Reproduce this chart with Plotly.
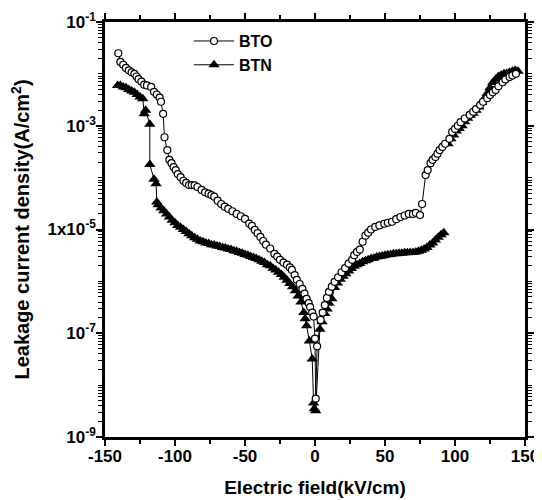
import plotly.graph_objects as go

# ---- data ----
bto_x = [-140.5, -139, -137, -135, -133, -131, -129, -127.5, -126, -124, -122, -120, -117, -115, -113,
         -111, -110, -108.5, -107.5, -105.5, -104, -102.5, -101, -99.5, -98, -96, -94, -92, -90, -88,
         -86, -84, -81, -78.5, -76, -74, -72, -69.5, -67, -64.5, -62, -59, -56, -53, -50, -47, -45,
         -43, -41, -39, -37, -35, -32, -29, -27, -25, -22.5, -20, -18, -16.5, -14.5, -13, -11, -9,
         -7.5, -6, -4.5, -3.5, -2, -1, 0, 0.5, 1.5, 4, 5.5, 7, 8.5, 10, 12, 14, 16.5, 19, 21.5, 24,
         26.5, 28, 30, 32, 34, 36, 38, 40, 43, 46, 49.5, 52, 55, 58, 61, 64, 67, 70, 72, 75, 76.5,
         79, 80.5, 82.5, 84, 86, 87.5, 89, 91, 93, 96, 98, 100, 102, 104, 107, 110.5, 113, 115, 118,
         120, 123, 125, 127, 129, 131, 134, 136, 139, 141, 143.5]
bto_y = [2.5e-2, 1.7e-2, 1.5e-2, 1.3e-2, 1.17e-2, 1.07e-2, 1.0e-2, 8.9e-3, 7.9e-3, 7.1e-3, 6.2e-3,
         6.0e-3, 5.6e-3, 4.5e-3, 4.0e-3, 3.5e-3, 2.9e-3, 1.7e-3, 6.0e-4, 3.4e-4, 2.2e-4, 1.9e-4,
         1.6e-4, 1.4e-4, 1.17e-4, 1.02e-4, 8.7e-5, 7.9e-5, 7.2e-5, 7.2e-5, 7.1e-5, 6.6e-5, 5.8e-5,
         5.2e-5, 4.9e-5, 4.6e-5, 4.3e-5, 3.6e-5, 3.1e-5, 2.75e-5, 2.5e-5, 2.25e-5, 2.0e-5, 1.8e-5,
         1.6e-5, 1.3e-5, 1.17e-5, 9.8e-6, 8.5e-6, 7.2e-6, 6.0e-6, 5.1e-6, 4.3e-6, 3.4e-6, 3.0e-6,
         2.6e-6, 2.3e-6, 2.1e-6, 1.86e-6, 1.66e-6, 1.32e-6, 1.07e-6, 8.9e-7, 7.2e-7, 5.8e-7, 4.6e-7,
         3.8e-7, 3.2e-7, 2.5e-7, 2.1e-7, 7.9e-8, 5.5e-9, 5.6e-8, 1.8e-7, 2.5e-7, 3.5e-7, 4.8e-7,
         6.3e-7, 7.9e-7, 9.8e-7, 1.2e-6, 1.5e-6, 1.8e-6, 2.2e-6, 2.6e-6, 3.2e-6, 3.7e-6, 4.1e-6,
         5.8e-6, 7.6e-6, 8.7e-6, 1.0e-5, 1.12e-5, 1.2e-5, 1.29e-5, 1.35e-5, 1.41e-5, 1.58e-5,
         1.74e-5, 1.86e-5, 2.0e-5, 2.0e-5, 2.1e-5, 1.9e-5, 3.1e-5, 1.12e-4, 1.4e-4, 1.9e-4,
         2.2e-4, 2.5e-4, 2.9e-4, 3.4e-4, 3.9e-4, 4.5e-4, 5.6e-4, 7.6e-4, 8.7e-4, 1.0e-3, 1.17e-3,
         1.38e-3, 1.62e-3, 1.86e-3, 2.1e-3, 2.5e-3, 2.9e-3, 3.4e-3, 3.9e-3, 4.4e-3, 4.9e-3,
         5.8e-3, 6.9e-3, 7.8e-3, 8.7e-3, 9.3e-3, 1.0e-2]

btn_x = [-141, -139, -137, -135, -133, -131, -129, -127, -125, -123, -122, -121, -118, -118, -115,
         -113.5, -113, -112, -110, -108, -106, -104, -102, -100, -98, -96, -94, -92, -90, -88, -86,
         -84, -82, -80, -78, -76, -74, -72, -70, -68, -66, -64, -62, -60, -58, -56, -54, -52, -50,
         -48, -46, -44, -42, -40, -38, -36, -34, -32, -30, -28, -26, -24, -22, -20, -18, -16, -14,
         -12, -10, -8, -7, -6, -4, -2, -1, -0.5, 0.5, 3.5, 5, 7, 8.6, 10, 12, 14, 16, 18, 20, 22,
         24, 26, 28, 30, 32, 34, 36, 38, 40, 42, 44, 46, 48, 50, 52, 54, 56, 58, 60, 62, 64, 66,
         68, 70, 72, 74, 76, 78, 80, 82, 84, 86, 88, 90, 92, None, 95, 97, 99, 101, 103, 105, 107,
         109, 111, 113, 115, 117, 119, 121, 123, 125, 127, 129, 131, 133, 135, 137, 139, 141, 143,
         145]
btn_y = [6.0e-3, 6.0e-3, 5.6e-3, 5.4e-3, 5.0e-3, 4.7e-3, 4.4e-3, 4.0e-3, 3.6e-3, 3.3e-3, 1.7e-3,
         2.0e-3, 1.07e-3, 1.8e-4, 9.3e-5, 7.6e-5, 3.4e-5, 3.0e-5, 2.6e-5, 2.3e-5, 2.0e-5, 1.74e-5,
         1.5e-5, 1.35e-5, 1.2e-5, 1.1e-5, 1.0e-5, 9.1e-6, 8.3e-6, 7.6e-6, 6.9e-6, 6.5e-6, 6.0e-6,
         5.8e-6, 5.5e-6, 5.4e-6, 5.1e-6, 5.0e-6, 4.8e-6, 4.7e-6, 4.5e-6, 4.4e-6, 4.2e-6, 4.1e-6,
         3.9e-6, 3.8e-6, 3.6e-6, 3.5e-6, 3.3e-6, 3.2e-6, 3.0e-6, 2.9e-6, 2.75e-6, 2.6e-6, 2.45e-6,
         2.3e-6, 2.1e-6, 2.0e-6, 1.8e-6, 1.66e-6, 1.5e-6, 1.35e-6, 1.2e-6, 1.05e-6, 9.1e-7, 7.9e-7,
         6.6e-7, 5.2e-7, 4.0e-7, 2.5e-7, 1.9e-7, 1.4e-7, 7.1e-8, 3.2e-8, 4.5e-9, 3.5e-9, 3.2e-9,
         1.2e-7, 1.66e-7, 2.4e-7, 2.95e-7, 3.8e-7, 4.6e-7, 7.6e-7, 9.3e-7, 1.1e-6, 1.26e-6,
         1.41e-6, 1.58e-6, 1.78e-6, 1.95e-6, 2.1e-6, 2.2e-6, 2.4e-6, 2.5e-6, 2.6e-6, 2.75e-6,
         2.8e-6, 2.95e-6, 3.0e-6, 3.1e-6, 3.2e-6, 3.25e-6, 3.3e-6, 3.4e-6, 3.4e-6, 3.5e-6, 3.5e-6,
         3.55e-6, 3.55e-6, 3.6e-6, 3.6e-6, 3.7e-6, 3.8e-6, 4.0e-6, 4.2e-6, 4.5e-6, 5.0e-6, 5.5e-6,
         6.3e-6, 7.1e-6, 7.9e-6, 8.7e-6, None, 4.5e-4, 5.6e-4, 6.6e-4, 7.9e-4, 8.9e-4, 1.0e-3,
         1.2e-3, 1.4e-3, 1.6e-3, 1.74e-3, 2.0e-3, 2.3e-3, 2.8e-3, 3.3e-3, 4.2e-3, 5.4e-3, 6.8e-3,
         7.9e-3, 8.9e-3, 9.5e-3, 1.0e-2, 1.02e-2, 1.07e-2, 1.12e-2, 1.17e-2, 1.12e-2]

x_tickvals = [-150, -100, -50, 0, 50, 100, 150]
y_tickvals = [1e-9, 1e-7, 1e-5, 1e-3, 1e-1]
y_ticktext = ["10<sup>-9</sup>", "10<sup>-7</sup>", "1x10<sup>-5</sup>",
              "10<sup>-3</sup>", "10<sup>-1</sup>"]

FONT = "Arial, 'Liberation Sans', Helvetica, sans-serif"

fig = go.Figure()
fig.add_trace(go.Scatter(
    x=btn_x, y=btn_y, name="<b>BTN</b>", mode="lines+markers", connectgaps=False,
    line=dict(color="black", width=1),
    marker=dict(symbol="triangle-up", size=10, color="black"),
))
fig.add_trace(go.Scatter(
    x=bto_x, y=bto_y, name="<b>BTO</b>", mode="lines+markers",
    line=dict(color="black", width=1),
    marker=dict(symbol="circle", size=7, color="white", line=dict(color="black", width=1.2)),
))

# minor ticks: even decades plus 2..9 within each decade
minor_y = [m * 10 ** e for e in range(-9, -1) for m in range(2, 11)]

fig.update_layout(
    width=542, height=500,
    margin=dict(l=97, r=25, t=14, b=71),
    paper_bgcolor="white", plot_bgcolor="white",
    font=dict(family=FONT, size=17, color="black"),
    showlegend=True,
    legend=dict(x=0.2, y=0.995, xanchor="left", yanchor="top",
                bgcolor="rgba(0,0,0,0)", traceorder="reversed",
                font=dict(size=16, family=FONT), itemwidth=40,
                tracegroupgap=0),
)
fig.update_xaxes(
    range=[-150, 150], tickvals=x_tickvals, automargin=False,
    ticktext=[f"<b>{v}</b>" for v in x_tickvals], ticklabeloverflow="allow",
    showline=True, linecolor="black", linewidth=2.5, mirror="ticks",
    ticks="outside", ticklen=6, tickwidth=2, tickcolor="black",
    minor=dict(ticks="outside", ticklen=4, tickwidth=1.5, dtick=25, tickcolor="black"),
    showgrid=False, zeroline=False, ticklabelstandoff=-4,
    tickfont=dict(size=17, family=FONT),
    title=dict(text="<b>Electric field(kV/cm)</b>", font=dict(size=19, family=FONT), standoff=16),
)
fig.update_yaxes(
    type="log", range=[-9, -1], tickvals=y_tickvals, automargin=False,
    ticktext=[f"<b>{t}</b>" for t in y_ticktext], ticklabeloverflow="allow",
    showline=True, linecolor="black", linewidth=2.5, mirror="ticks",
    ticks="outside", ticklen=6, tickwidth=2, tickcolor="black",
    minor=dict(ticks="outside", ticklen=4, tickwidth=1.2, tickvals=minor_y, tickcolor="black"),
    showgrid=False, zeroline=False, ticklabelstandoff=-3,
    tickfont=dict(size=17, family=FONT),
    title=dict(text="<b>Leakage current density(A/cm<sup>2</sup>)</b>",
               font=dict(size=20, family=FONT), standoff=15),
)

fig.write_html("out.html")
